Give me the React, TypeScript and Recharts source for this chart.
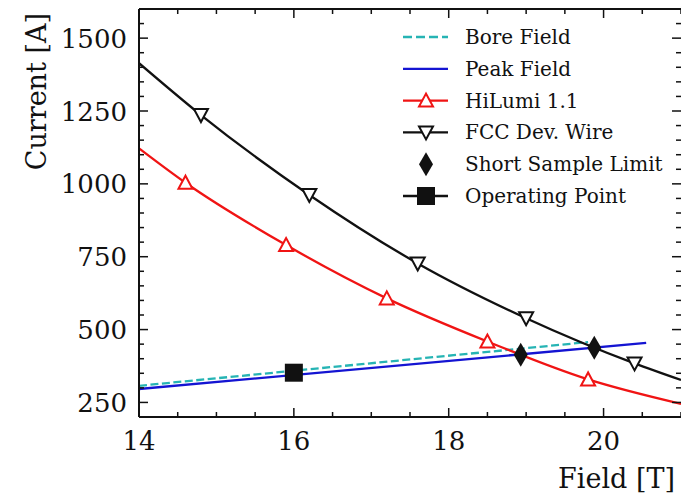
import { ComposedChart, Line, Scatter, XAxis, YAxis, ReferenceLine } from "recharts";

const FONT = '"DejaVu Serif", "Liberation Serif", serif';
const INK = "#111111";
const RED = "#f01414";
const BLUE = "#1414d2";
const CYAN = "#26b4b4";

// Field [T] vs current [A].
// First and last points are where the fit curves meet the frame; markers sit on the rest.
const FCC_FIELD = [14, 14.8, 16.2, 17.6, 19.0, 20.4, 21];
const FCC_CURRENT = [1414, 1236, 962, 727, 539, 384, 327];
const HILUMI_FIELD = [14, 14.6, 15.9, 17.2, 18.5, 19.8, 21];
const HILUMI_CURRENT = [1122, 1004, 790, 607, 459, 329, 245];
const PEAK_FIELD = [14, 20.55];
const PEAK_CURRENT = [296, 454];
const BORE_FIELD = [14, 19.8];
const BORE_CURRENT = [307, 457];
const SSL_FIELD = [18.93, 19.88];
const SSL_CURRENT = [414, 438];
const OP_FIELD = [16.0];
const OP_CURRENT = [352];

const X_MAJOR = [14, 16, 18, 20];
const Y_MAJOR = [250, 500, 750, 1000, 1250, 1500];
const X_DOMAIN: [number, number] = [14, 21];
const Y_DOMAIN: [number, number] = [200, 1600];

const LEGEND = [
  "Bore Field",
  "Peak Field",
  "HiLumi 1.1",
  "FCC Dev. Wire",
  "Short Sample Limit",
  "Operating Point",
];

// minor ticks every 0.5 T and every 50 A
const X_TICKS = Array.from({ length: 15 }, (_, i) => 14 + i * 0.5);
const Y_TICKS = Array.from({ length: 27 }, (_, i) => 250 + i * 50);

const W = 681;
const H = 497;
const LEFT = 139;
const TOP = 9;
const BOTTOM = 417;
const RIGHT = 681;
const LW = 2.3;

const pts = (xs: number[], ys: number[]) => xs.map((x, i) => ({ x, y: ys[i] }));

const fcc = pts(FCC_FIELD, FCC_CURRENT);
const hilumi = pts(HILUMI_FIELD, HILUMI_CURRENT);
const peak = pts(PEAK_FIELD, PEAK_CURRENT);
const bore = pts(BORE_FIELD, BORE_CURRENT);
const ssl = pts(SSL_FIELD, SSL_CURRENT);
const op = pts(OP_FIELD, OP_CURRENT);

function XTick(props: any) {
  const { x, payload } = props;
  const major = X_MAJOR.includes(payload.value);
  const len = major ? 9 : 5;
  return (
    <g>
      <line x1={x} x2={x} y1={BOTTOM} y2={BOTTOM - len} stroke={INK} strokeWidth={1.5} />
      <line x1={x} x2={x} y1={TOP} y2={TOP + len} stroke={INK} strokeWidth={1.5} />
      {major && (
        <text x={x} y={450} textAnchor="middle" fontFamily={FONT} fontSize={26} fill={INK}>
          {payload.value}
        </text>
      )}
    </g>
  );
}

function YTick(props: any) {
  const { y, payload } = props;
  const major = Y_MAJOR.includes(payload.value);
  const len = major ? 9 : 5;
  return (
    <g>
      <line x1={LEFT} x2={LEFT + len} y1={y} y2={y} stroke={INK} strokeWidth={1.5} />
      <line x1={RIGHT} x2={RIGHT - len} y1={y} y2={y} stroke={INK} strokeWidth={1.5} />
      {major && (
        <text x={127} y={y + 9.5} textAnchor="end" fontFamily={FONT} fontSize={26} fill={INK}>
          {payload.value}
        </text>
      )}
    </g>
  );
}

const TriUp = ({ cx, cy, color }: any) => (
  <polygon
    points={`${cx},${cy - 7} ${cx - 7},${cy + 6} ${cx + 7},${cy + 6}`}
    fill="#fff"
    stroke={color}
    strokeWidth={2}
  />
);

const TriDown = ({ cx, cy, color }: any) => (
  <polygon
    points={`${cx},${cy + 7} ${cx - 7},${cy - 6} ${cx + 7},${cy - 6}`}
    fill="#fff"
    stroke={color}
    strokeWidth={2}
  />
);

const Diamond = ({ cx, cy }: any) => (
  <polygon points={`${cx},${cy - 12} ${cx + 7},${cy} ${cx},${cy + 12} ${cx - 7},${cy}`} fill={INK} />
);

const Square = ({ cx, cy }: any) => <rect x={cx - 9} y={cy - 9} width={18} height={18} fill={INK} />;

function LegendBox() {
  const x0 = 403;
  const x1 = 448;
  const xm = 426;
  return (
    <svg width={W} height={H} style={{ position: "absolute", left: 0, top: 0, pointerEvents: "none" }}>
      {LEGEND.map((name, i) => {
        const cy = 37 + i * 31.8;
        let glyph = null;
        if (i === 0)
          glyph = <line x1={x0} x2={x1} y1={cy} y2={cy} stroke={CYAN} strokeWidth={LW} strokeDasharray="9 4" />;
        if (i === 1) glyph = <line x1={x0} x2={x1} y1={cy} y2={cy} stroke={BLUE} strokeWidth={LW} />;
        if (i === 2)
          glyph = (
            <g>
              <line x1={x0} x2={x1} y1={cy} y2={cy} stroke={RED} strokeWidth={LW} />
              <TriUp cx={xm} cy={cy} color={RED} />
            </g>
          );
        if (i === 3)
          glyph = (
            <g>
              <line x1={x0} x2={x1} y1={cy} y2={cy} stroke={INK} strokeWidth={LW} />
              <TriDown cx={xm} cy={cy} color={INK} />
            </g>
          );
        if (i === 4) glyph = <Diamond cx={xm} cy={cy} />;
        if (i === 5)
          glyph = (
            <g>
              <line x1={x0} x2={x1} y1={cy} y2={cy} stroke={INK} strokeWidth={LW} />
              <Square cx={xm} cy={cy} />
            </g>
          );
        return (
          <g key={name}>
            {glyph}
            <text x={465} y={cy + 7} fontFamily={FONT} fontSize={20} fill={INK}>
              {name}
            </text>
          </g>
        );
      })}
    </svg>
  );
}

export default function App() {
  return (
    <div style={{ position: "absolute", left: 0, top: 0, width: W, height: H, background: "#fff" }}>
      <ComposedChart width={W} height={H} margin={{ top: TOP, right: W - RIGHT, bottom: 0, left: 0 }}>
        <XAxis
          type="number"
          dataKey="x"
          domain={X_DOMAIN}
          ticks={X_TICKS}
          interval={0}
          allowDataOverflow
          height={H - BOTTOM}
          tickSize={0}
          tickMargin={0}
          tickLine={false}
          axisLine={{ stroke: INK, strokeWidth: 2 }}
          tick={<XTick />}
          label={{
            content: () => (
              <text x={675} y={488} textAnchor="end" fontFamily={FONT} fontSize={27} fill={INK}>
                Field [T]
              </text>
            ),
          }}
        />
        <YAxis
          type="number"
          dataKey="y"
          domain={Y_DOMAIN}
          ticks={Y_TICKS}
          interval={0}
          allowDataOverflow
          width={LEFT}
          tickSize={0}
          tickMargin={0}
          tickLine={false}
          axisLine={{ stroke: INK, strokeWidth: 2 }}
          tick={<YTick />}
          label={{
            content: () => (
              <text
                x={46}
                y={13}
                transform="rotate(-90, 46, 13)"
                textAnchor="end"
                fontFamily={FONT}
                fontSize={27}
                fill={INK}
              >
                Current [A]
              </text>
            ),
          }}
        />
        <ReferenceLine y={1600} stroke={INK} strokeWidth={2} />
        <Line data={bore} dataKey="y" type="linear" stroke={CYAN} strokeWidth={LW} strokeDasharray="8 3.5" dot={false} isAnimationActive={false} />
        <Line data={peak} dataKey="y" type="linear" stroke={BLUE} strokeWidth={LW} dot={false} isAnimationActive={false} />
        <Line data={hilumi} dataKey="y" type="monotone" stroke={RED} strokeWidth={LW} dot={false} isAnimationActive={false} />
        <Line data={fcc} dataKey="y" type="monotone" stroke={INK} strokeWidth={LW} dot={false} isAnimationActive={false} />
        <Scatter data={hilumi.slice(1, -1)} dataKey="y" isAnimationActive={false} shape={(p: any) => <TriUp cx={p.cx} cy={p.cy} color={RED} />} />
        <Scatter data={fcc.slice(1, -1)} dataKey="y" isAnimationActive={false} shape={(p: any) => <TriDown cx={p.cx} cy={p.cy} color={INK} />} />
        <Scatter data={ssl} dataKey="y" isAnimationActive={false} shape={(p: any) => <Diamond cx={p.cx} cy={p.cy} />} />
        <Scatter data={op} dataKey="y" isAnimationActive={false} shape={(p: any) => <Square cx={p.cx} cy={p.cy} />} />
      </ComposedChart>
      <LegendBox />
    </div>
  );
}
